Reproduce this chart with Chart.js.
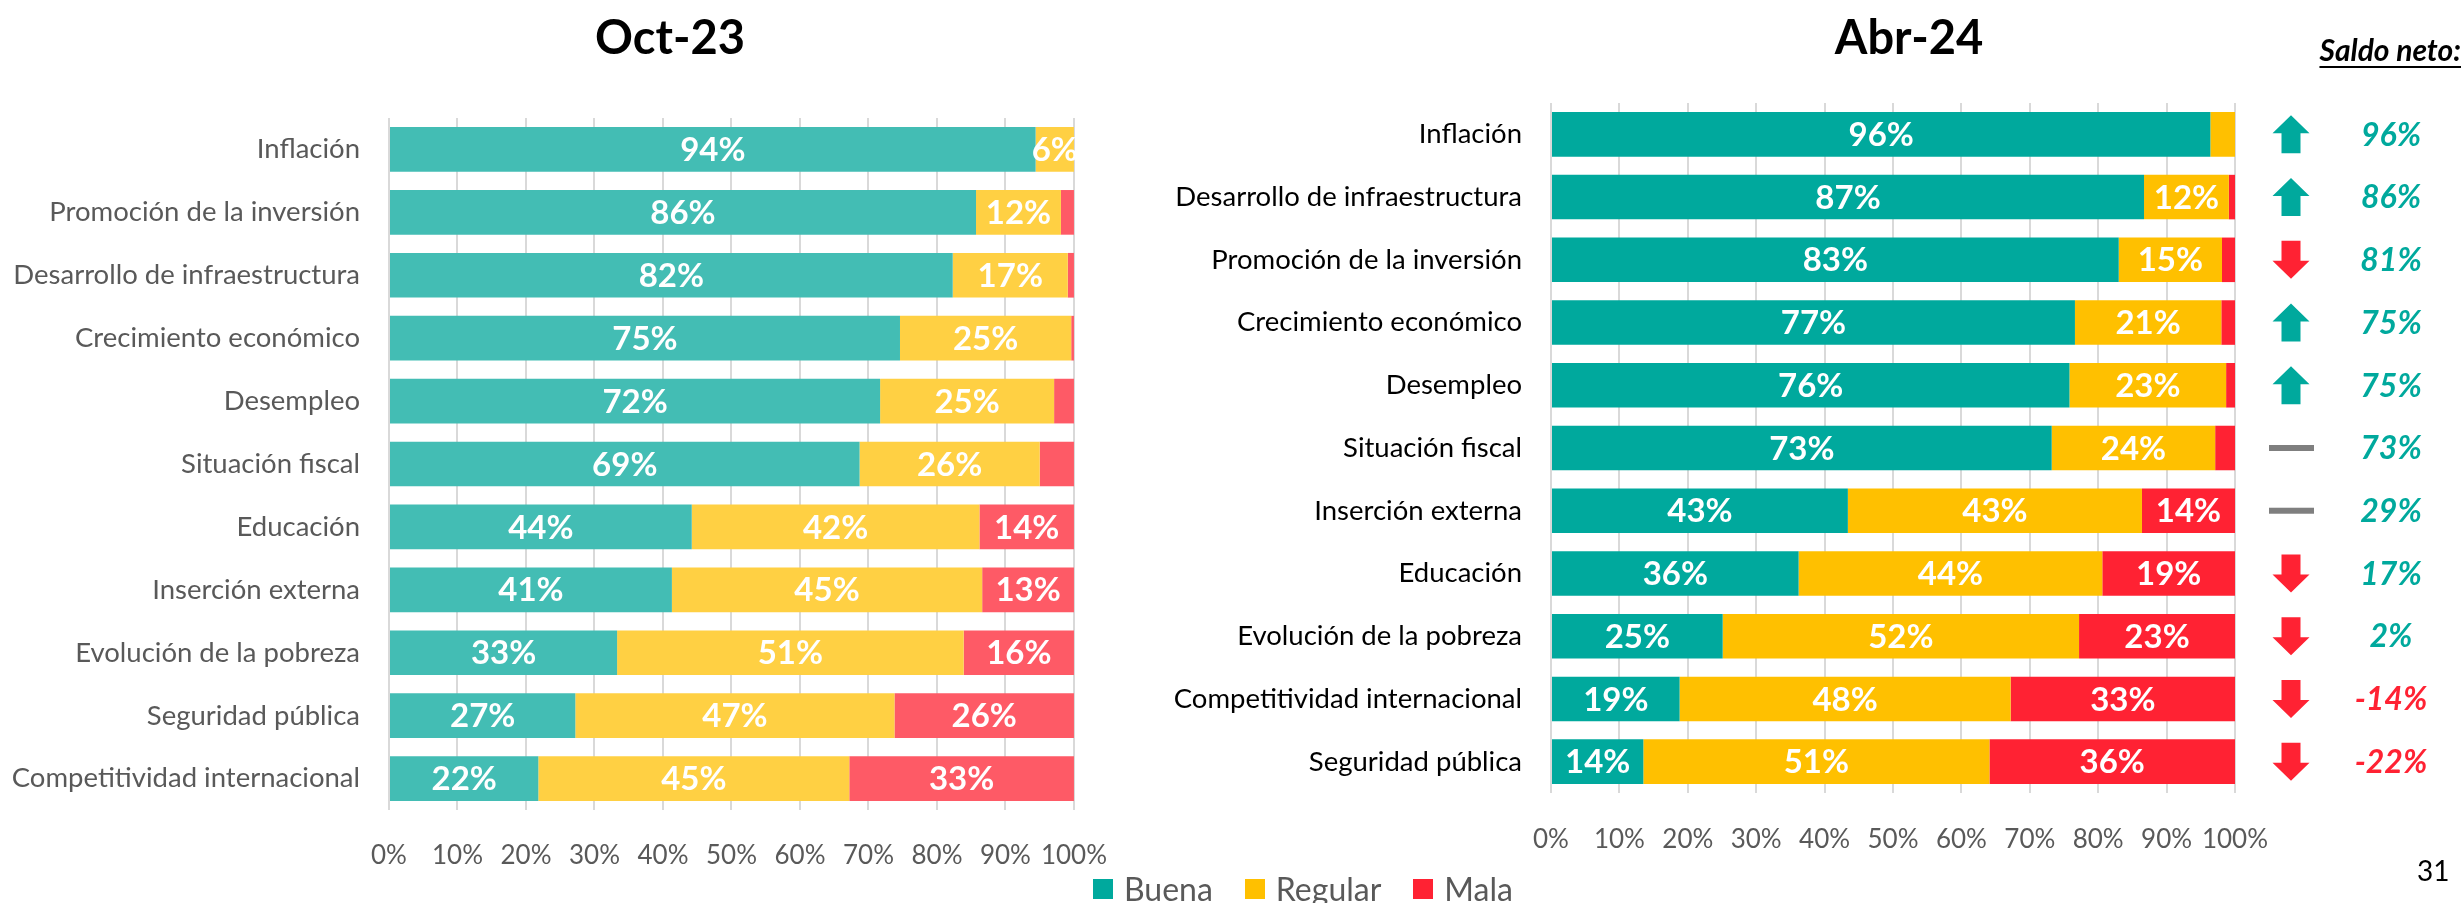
<!DOCTYPE html>
<html lang="es">
<head>
<meta charset="utf-8">
<title>Evaluación de temas: Oct-23 y Abr-24</title>
<script src="https://cdn.jsdelivr.net/npm/chart.js@4.4.1/dist/chart.umd.min.js"></script>
<style>
    html, body { margin: 0; padding: 0; background: #fff; }
    body {
        width: 2463px; height: 903px; position: relative; overflow: hidden;
        font-family: Lato, 'Open Sans', sans-serif;
    }
    .panel { position: absolute; top: 0; height: 903px; }
    #octWrap { left: 0; width: 1137px; }
    #abrWrap { left: 1120px; width: 1343px; }
    .title {
        position: absolute; top: 13px; line-height: 1; font-size: 47px; font-weight: 700;
        color: #000; transform: translateX(-50%); white-space: nowrap;
    }
    #saldoHead {
        position: absolute; top: 34px; right: 2px; line-height: 1; font-size: 30px;
        font-weight: 700; font-style: italic; text-decoration: underline; text-underline-offset: 5px;
        text-decoration-thickness: 2px; color: #000;
    }
    #legend {
        position: absolute; left: 1093px; top: 873px; display: flex; align-items: center;
        font-size: 32px; color: #595959; line-height: 1;
    }
    #legend .item { display: flex; align-items: center; margin-right: 32px; }
    #legend .swatch { width: 20px; height: 20px; margin-right: 11px; }
    #pageNum { position: absolute; left: 2417px; top: 856px; font-size: 28px; line-height: 1; color: #000; }
</style>
</head>
<body>
<div class="panel" id="octWrap"><canvas id="octChart"></canvas></div>
<div class="panel" id="abrWrap"><canvas id="abrChart"></canvas></div>
<div class="title" style="left:670px">Oct-23</div>
<div class="title" style="left:1909px">Abr-24</div>
<div id="saldoHead">Saldo neto:</div>
<div id="legend"></div>
<div id="pageNum">31</div>

<script>
// ── Data ──────────────────────────────────────────────────────────────────────

const seriesNames = ['Buena', 'Regular', 'Mala'];

const octCategories = [
    'Inflación', 'Promoción de la inversión', 'Desarrollo de infraestructura', 'Crecimiento económico',
    'Desempleo', 'Situación fiscal', 'Educación', 'Inserción externa', 'Evolución de la pobreza',
    'Seguridad pública', 'Competitividad internacional',
];
const octBuena   = [94.4, 85.7, 82.3, 74.6, 71.7, 68.7, 44.2, 41.3, 33.3, 27.2, 21.8];
const octRegular = [5.6, 12.4, 16.8, 25.0, 25.4, 26.3, 42.0, 45.3, 50.6, 46.6, 45.4];
const octMala    = [0, 1.9, 0.9, 0.4, 2.9, 5.0, 13.8, 13.4, 16.1, 26.2, 32.8];

const abrCategories = [
    'Inflación', 'Desarrollo de infraestructura', 'Promoción de la inversión', 'Crecimiento económico',
    'Desempleo', 'Situación fiscal', 'Inserción externa', 'Educación', 'Evolución de la pobreza',
    'Competitividad internacional', 'Seguridad pública',
];
const abrBuena   = [96.4, 86.7, 83.0, 76.6, 75.8, 73.2, 43.4, 36.2, 25.1, 18.8, 13.5];
const abrRegular = [3.6, 12.4, 15.1, 21.4, 22.9, 23.9, 43.0, 44.4, 52.1, 48.4, 50.6];
const abrMala    = [0, 0.9, 1.9, 2.0, 1.3, 2.9, 13.6, 19.4, 22.8, 32.8, 35.9];

// net balance and its direction versus the previous wave
const saldoNeto = [96, 86, 81, 75, 75, 73, 29, 17, 2, -14, -22];
const tendencia = ['up', 'up', 'down', 'up', 'up', 'flat', 'flat', 'down', 'down', 'down', 'down'];

const xTicks = [0, 10, 20, 30, 40, 50, 60, 70, 80, 90, 100];

const octColors = ['#43BDB4', '#FFD043', '#FE5A66'];
const abrColors = ['#00A99D', '#FFC000', '#FF2233'];

const FONT = 'Lato, "Open Sans", sans-serif';

// ── Plugins ───────────────────────────────────────────────────────────────────

// white percentage inside each segment, skipped when the slice is too thin
const segmentLabels = {
    id: 'segmentLabels',
    afterDatasetsDraw(chart) {
        const { ctx } = chart;
        ctx.save();
        ctx.font = `700 33px ${FONT}`;
        ctx.fillStyle = '#fff';
        ctx.textAlign = 'center';
        ctx.textBaseline = 'middle';
        chart.data.datasets.forEach((ds, i) => {
            chart.getDatasetMeta(i).data.forEach((bar, j) => {
                const pct = Math.round(ds.data[j]);
                if (pct < 6) return;
                ctx.fillText(`${pct}%`, (bar.x + bar.base) / 2, bar.y + 1);
            });
        });
        ctx.restore();
    },
};

// arrow + net balance column to the right of the plot
const saldoColumn = {
    id: 'saldoColumn',
    afterDraw(chart) {
        const { ctx, chartArea, scales: { y } } = chart;
        const ax = chartArea.right + 56;
        const vx = chartArea.right + 156;
        const teal = abrColors[0];
        const red = abrColors[2];
        ctx.save();
        saldoNeto.forEach((v, i) => {
            const cy = y.getPixelForValue(i);
            const dir = tendencia[i];
            if (dir === 'flat') {
                ctx.fillStyle = '#7F7F7F';
                ctx.fillRect(ax - 22, cy - 3, 45, 6);
            } else {
                const s = dir === 'up' ? -1 : 1;   // head points up (-1) or down (+1)
                const tip = cy + s * 19;
                const neck = cy + s * 1;
                const tail = cy - s * 19;
                ctx.fillStyle = dir === 'up' ? teal : red;
                ctx.beginPath();
                ctx.moveTo(ax, tip);
                ctx.lineTo(ax + 18.5, neck);
                ctx.lineTo(ax + 9.5, neck);
                ctx.lineTo(ax + 9.5, tail);
                ctx.lineTo(ax - 9.5, tail);
                ctx.lineTo(ax - 9.5, neck);
                ctx.lineTo(ax - 18.5, neck);
                ctx.closePath();
                ctx.fill();
            }
            ctx.font = `italic 700 32px ${FONT}`;
            ctx.textAlign = 'center';
            ctx.textBaseline = 'middle';
            ctx.fillStyle = v < 0 ? red : teal;
            ctx.fillText(`${v}%`, vx, cy + 1);
        });
        ctx.restore();
    },
};

// ── Chart builder ─────────────────────────────────────────────────────────────

function buildStackedChart(canvasId, labels, values, colors, cfg) {
    return new Chart(document.getElementById(canvasId), {
        type: 'bar',
        data: {
            labels,
            datasets: seriesNames.map((name, i) => ({
                label: name,
                data: values[i],
                backgroundColor: colors[i],
                borderWidth: 0,
                categoryPercentage: 1,
                barPercentage: 0.71,
            })),
        },
        options: {
            indexAxis: 'y',
            responsive: true,
            maintainAspectRatio: false,
            animation: false,
            layout: { padding: cfg.padding },
            plugins: { legend: { display: false }, tooltip: { enabled: false } },
            scales: {
                x: {
                    stacked: true,
                    min: 0,
                    max: 100,
                    afterBuildTicks(scale) { scale.ticks = xTicks.map((v) => ({ value: v })); },
                    afterFit(scale) { scale.height = 60; },
                    grid: { color: '#D9D9D9', lineWidth: 2, drawTicks: false },
                    border: { display: false },
                    ticks: {
                        padding: cfg.xPad,
                        maxRotation: 0,
                        autoSkip: false,
                        color: '#595959',
                        font: { family: FONT, size: 26 },
                        callback: (v) => `${v}%`,
                    },
                },
                y: {
                    stacked: true,
                    afterFit(scale) { scale.width = cfg.yWidth; },
                    grid: { display: false, drawTicks: false },
                    border: { display: false },
                    ticks: {
                        padding: 29,
                        color: cfg.labelColor,
                        font: { family: FONT, size: 27.5 },
                    },
                },
            },
        },
        plugins: cfg.plugins,
    });
}

buildStackedChart('octChart', octCategories, [octBuena, octRegular, octMala], octColors, {
    padding: { top: 118, right: 10, bottom: 33, left: 0 },
    yWidth: 389,
    xPad: 30,
    labelColor: '#595959',
    plugins: [segmentLabels],
});

buildStackedChart('abrChart', abrCategories, [abrBuena, abrRegular, abrMala], abrColors, {
    padding: { top: 103, right: 228, bottom: 50, left: 0 },
    yWidth: 431,
    xPad: 31,
    labelColor: '#000',
    plugins: [segmentLabels, saldoColumn],
});

// shared legend under both panels
document.getElementById('legend').innerHTML = seriesNames
    .map((name, i) => `<div class="item"><span class="swatch" style="background:${abrColors[i]}"></span>${name}</div>`)
    .join('');
</script>
</body>
</html>
